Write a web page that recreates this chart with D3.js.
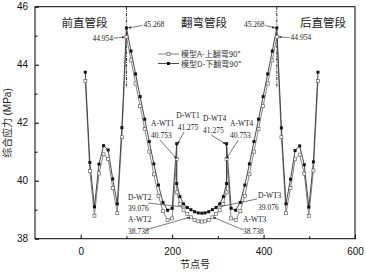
<!DOCTYPE html>
<html><head><meta charset="utf-8">
<script src="https://cdn.jsdelivr.net/npm/d3@7/dist/d3.min.js"></script>
<style>body{margin:0;background:#fff}</style>
</head><body>
<svg id="c" width="366" height="275"></svg>
<script>
const nodes = [
 10,20,30,40,50,60,70,80,90,100,
 110,120,130,140,150,160,170,180,190,200,
 210,210,217,225,233,241,249,257,265,272,280,288,296,304,312,319,319,
 329,339,349,359,369,379,389,399,409,419,
 429,439,449,459,469,479,489,499,509,519];
const seriesD = [
 43.74,40.63,39.10,40.57,41.21,41.06,40.06,39.20,41.83,45.268,
 44.47,43.68,42.90,42.12,41.35,40.58,39.85,39.25,38.98,39.05,
 41.275,39.90,39.45,39.20,39.076,39.00,38.93,38.89,38.88,38.89,38.93,39.00,39.076,39.20,39.45,39.90,41.275,
 39.05,38.98,39.25,39.85,40.58,41.35,42.12,42.90,43.68,44.47,
 45.268,41.82,39.20,40.05,41.04,41.20,40.55,39.09,40.65,43.74];
const seriesA = [
 43.44,40.33,38.79,40.25,40.91,40.75,39.75,38.88,41.50,44.954,
 44.15,43.35,42.57,41.78,41.00,40.22,39.48,38.95,38.64,38.70,
 40.753,39.60,39.20,38.98,38.85,38.738,38.64,38.60,38.59,38.60,38.64,38.738,38.85,38.98,39.20,39.60,40.753,
 38.70,38.64,38.95,39.48,40.22,41.00,41.78,42.57,43.35,44.15,
 44.954,41.50,38.88,39.75,40.74,40.90,40.24,38.78,40.35,43.44];
const xTicks = [0,200,400,600];
const xMinor = [100,300,500];
const yTicks = [38,40,42,44,46];
const yMinor = [39,41,43,45];
const legendLabels = ["模型A-上翻弯90°","模型D-下翻弯90°"];
const sectionLabels = ["前直管段","翻弯管段","后直管段"];
const sectionBounds = [100,429];

const svg = d3.select("#c");
const x = d3.scaleLinear().domain([-100,600]).range([35,355]);
const y = d3.scaleLinear().domain([38,46]).range([238.7,6.7]);
const latin = "'Liberation Sans', Arial, sans-serif";
const cjk = "'Noto Sans CJK SC', sans-serif";
const serif = "'Liberation Serif', 'Times New Roman', serif";

// frame
svg.append("rect").attr("x",35).attr("y",6.7).attr("width",320).attr("height",232)
  .attr("fill","none").attr("stroke","#000").attr("stroke-width",1);

// axes
const gx = svg.append("g").attr("transform","translate(0,238.7)")
  .call(d3.axisBottom(x).tickValues(xTicks).tickSize(-4).tickPadding(9));
const gxm = svg.append("g").attr("transform","translate(0,238.7)")
  .call(d3.axisBottom(x).tickValues(xMinor).tickSize(-2.5).tickFormat(""));
const gy = svg.append("g").attr("transform","translate(35,0)")
  .call(d3.axisLeft(y).tickValues(yTicks).tickSize(-4).tickPadding(7));
const gym = svg.append("g").attr("transform","translate(35,0)")
  .call(d3.axisLeft(y).tickValues(yMinor).tickSize(-2.5).tickFormat(""));
[gx,gxm,gy,gym].forEach(g=>{
  g.select(".domain").remove();
  g.selectAll("line").attr("stroke","#000");
  g.selectAll("text").attr("font-family",latin).attr("font-size",10).attr("fill","#111");
});

// dash-dot section boundaries
sectionBounds.forEach(b=>{
  svg.append("line").attr("x1",x(b)).attr("x2",x(b)).attr("y1",y(46)).attr("y2",y(43.2))
    .attr("stroke","#222").attr("stroke-width",1).attr("stroke-dasharray","3,1.2,1,1.2");
});

// section labels
[[sectionLabels[0],84.5],[sectionLabels[1],204],[sectionLabels[2],323]].forEach(([t,cx])=>{
  svg.append("text").attr("x",cx).attr("y",26.5).attr("text-anchor","middle")
    .attr("font-family",cjk).attr("font-size",11.5).attr("fill","#222").text(t);
});

// lines
const line = d3.line().x(d=>x(d[0])).y(d=>y(d[1]));
const dA = nodes.map((n,i)=>[n,seriesA[i]]);
const dD = nodes.map((n,i)=>[n,seriesD[i]]);
svg.append("path").datum(dA).attr("d",line).attr("fill","none").attr("stroke","#777").attr("stroke-width",0.9);
svg.append("path").datum(dD).attr("d",line).attr("fill","none").attr("stroke","#333").attr("stroke-width",0.9);
const s=3;
svg.append("g").selectAll("rect").data(dA).join("rect")
  .attr("x",d=>x(d[0])-s/2).attr("y",d=>y(d[1])-s/2).attr("width",s).attr("height",s)
  .attr("fill","#fff").attr("stroke","#666").attr("stroke-width",0.7);
svg.append("g").selectAll("rect").data(dD).join("rect")
  .attr("x",d=>x(d[0])-s/2).attr("y",d=>y(d[1])-s/2).attr("width",s).attr("height",s)
  .attr("fill","#111");

// legend
legendLabels.forEach((t,i)=>{
  const ly = 54 + i*9.5;
  svg.append("line").attr("x1",158).attr("x2",179).attr("y1",ly).attr("y2",ly)
    .attr("stroke", i===0?"#777":"#333").attr("stroke-width",0.9);
  const r = svg.append("rect").attr("x",168.5-s/2).attr("y",ly-s/2).attr("width",s).attr("height",s);
  if(i===0) r.attr("fill","#fff").attr("stroke","#666").attr("stroke-width",0.7); else r.attr("fill","#111");
  svg.append("text").attr("x",181).attr("y",ly+3).attr("font-family",cjk).attr("font-size",8)
    .attr("fill","#333").text(t);
});

// arrow marker
svg.append("defs").append("marker").attr("id","ah").attr("viewBox","0 0 10 10")
  .attr("refX",9).attr("refY",5).attr("markerWidth",5).attr("markerHeight",5).attr("orient","auto")
  .append("path").attr("d","M0,1 L10,5 L0,9 Z").attr("fill","#222");

// annotations: label lines, label pos (px), anchor, line start (px), target node/value, target offset
const annotations = [
 {t:["45.268"], lx:143.5, ly:26.5, a:"start", sx:142, sy:25.5, tn:100, tv:45.268, ox:2, arrow:true},
 {t:["44.954"], lx:113, ly:40.5, a:"end", sx:113.5, sy:38.3, tn:100, tv:44.954, ox:-2, arrow:true},
 {t:["45.268"], lx:264.5, ly:26.5, a:"end", sx:265.5, sy:25.5, tn:429, tv:45.268, ox:-2, arrow:true},
 {t:["44.954"], lx:290.5, ly:39.5, a:"start", sx:289.5, sy:37.5, tn:429, tv:44.954, ox:2, arrow:true},
 {t:["A-WT1","40.753"], lx:151, ly:126, a:"start", sx:160, sy:140, tn:210, tv:40.753, ox:0, arrow:true},
 {t:["D-WT1","41.275"], lx:188, ly:118, a:"middle", sx:184, sy:132, tn:210, tv:41.275, ox:1, arrow:true},
 {t:["D-WT4","41.275"], lx:203, ly:121, a:"start", sx:211, sy:135, tn:319, tv:41.275, ox:-1, arrow:true},
 {t:["A-WT4","40.753"], lx:230, ly:126, a:"start", sx:238, sy:140, tn:319, tv:40.753, ox:0, arrow:true},
 {t:["D-WT2","39.076"], lx:128, ly:199.5, a:"start", sx:148, sy:203, tn:233, tv:39.076, ox:0, arrow:false},
 {t:["A-WT2","38.738"], lx:128, ly:222, a:"start", sx:147, sy:229.5, tn:241, tv:38.738, ox:-1, arrow:true},
 {t:["D-WT3","39.076"], lx:258, ly:198, a:"start", sx:257, sy:199, tn:296, tv:39.076, ox:0, arrow:false},
 {t:["A-WT3","38.738"], lx:243, ly:222, a:"start", sx:243.5, sy:230, tn:288, tv:38.738, ox:1, arrow:true}
];
annotations.forEach(an=>{
  an.t.forEach((tt,k)=>{
    svg.append("text").attr("x",an.lx).attr("y",an.ly+k*11.5).attr("text-anchor",an.a)
      .attr("font-family",serif).attr("font-size",7.5).attr("fill","#222").text(tt);
  });
  const l = svg.append("line").attr("x1",an.sx).attr("y1",an.sy)
    .attr("x2",x(an.tn)+an.ox).attr("y2",y(an.tv)).attr("stroke","#222").attr("stroke-width",0.6);
  if(an.arrow) l.attr("marker-end","url(#ah)");
});

// axis titles
svg.append("text").attr("transform","translate(11,123) rotate(-90)").attr("text-anchor","middle")
  .attr("font-family",cjk).attr("font-size",10).attr("fill","#222")
  .selectAll("tspan").data([["综合应力 ",cjk],["(MPa)",latin]]).join("tspan")
  .attr("font-family",d=>d[1]).text(d=>d[0]);
svg.append("text").attr("x",195).attr("y",268).attr("text-anchor","middle")
  .attr("font-family",cjk).attr("font-size",10).attr("fill","#222").text("节点号");
</script>
</body></html>
